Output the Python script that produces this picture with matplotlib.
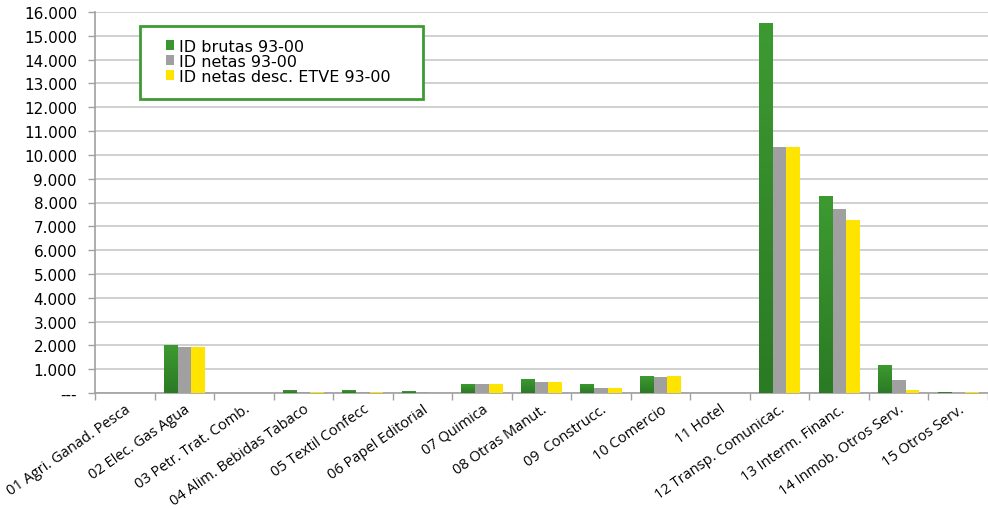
import matplotlib
matplotlib.use('Agg')
import matplotlib.pyplot as plt
import numpy as np
from matplotlib.ticker import FuncFormatter
from matplotlib.patches import Rectangle
from matplotlib.colors import LinearSegmentedColormap

plt.rcParams['font.family'] = ['Open Sans', 'DejaVu Sans']

# Sectores
sectores = ['01 Agri. Ganad. Pesca', '02 Elec. Gas Agua', '03 Petr. Trat. Comb.',
            '04 Alim. Bebidas Tabaco', '05 Textil Confecc', '06 Papel Editorial',
            '07 Quimica', '08 Otras Manut.', '09  Construcc.', '10 Comercio',
            '11 Hotel', '12 Transp. Comunicac.', '13 Interm. Financ.',
            '14 Inmob. Otros Serv.', '15 Otros Serv.']

# Valores
brutas = [0, 2000, 10, 120, 110, 70, 370, 590, 380, 710, 0, 15550, 8260, 1180, 60]
netas = [0, 1930, 5, 60, 50, 60, 370, 470, 210, 670, 0, 10340, 7740, 540, 0]
netas_etve = [0, 1930, 5, 60, 50, 0, 370, 470, 210, 710, 0, 10340, 7270, 110, 40]

series = ['ID brutas 93-00', 'ID netas 93-00', 'ID netas desc. ETVE 93-00']
colores = ['#3a962e', '#a0a0a0', '#ffe400']

fig = plt.figure(figsize=(9.88, 5.10), dpi=100)
ax = fig.add_axes([95 / 988, 1 - 394 / 510, 893 / 988, 381 / 510])

x = np.arange(len(sectores))
w = 0.23
verde = LinearSegmentedColormap.from_list('verde', ['#2b7a24', '#3d9a31'])
grad = np.linspace(0, 1, 100).reshape(-1, 1)
for i, (vals, col, nom) in enumerate(zip([brutas, netas, netas_etve], colores, series)):
    barras = ax.bar(x + (i - 1) * w, vals, width=w, color=col, label=nom, zorder=3)
    if i == 0:
        # degradado en las barras verdes
        for b in barras:
            if b.get_height() <= 0:
                continue
            x0, y0 = b.get_x(), b.get_y()
            im = ax.imshow(grad, cmap=verde, origin='lower', aspect='auto',
                           extent=[x0, x0 + b.get_width(), y0, y0 + b.get_height()],
                           zorder=3.5)
            im.set_clip_path(b)

ax.set_xlim(-0.5, len(sectores) - 0.5)
ax.set_ylim(0, 16000)
ax.set_yticks(np.arange(0, 16001, 1000))
ax.yaxis.set_major_formatter(FuncFormatter(
    lambda v, p: '---' if v == 0 else f'{int(v):,}'.replace(',', '.')))
ax.grid(axis='y', color='#c8c8c8', linewidth=1.2, zorder=0)

ax.set_xticks(x)
ax.set_xticklabels(sectores, rotation=35, ha='right', va='top', rotation_mode='anchor')
ax.set_xticks(np.arange(-0.5, len(sectores), 1), minor=True)
ax.tick_params(axis='x', which='major', length=0, pad=6, labelsize=10.5)
ax.tick_params(axis='x', which='minor', length=5, color='#a0a0a0', width=1)
ax.tick_params(axis='y', length=5, color='#a0a0a0', width=1, pad=8)
for t in ax.get_yticklabels():
    t.set_fontfamily('DejaVu Sans')
    t.set_fontsize(11)

for s in ['top', 'right']:
    ax.spines[s].set_visible(False)
for s in ['left', 'bottom']:
    ax.spines[s].set_color('#a0a0a0')
    ax.spines[s].set_linewidth(1.2)

# marco de la leyenda
marco = Rectangle((0.0504, 0.7717), 0.3169, 0.1916, transform=ax.transAxes,
                  facecolor='white', edgecolor='#3f9a34', linewidth=2, zorder=5)
ax.add_patch(marco)
leg = ax.legend(loc='upper left', bbox_to_anchor=(0.079, 0.93),
                prop={'family': 'DejaVu Sans', 'size': 11.5},
                handlelength=0.55, handleheight=0.55, handletextpad=0.3,
                labelspacing=0.0, borderpad=0, borderaxespad=0, frameon=False)
leg.set_zorder(6)

fig.savefig('out.png', dpi=100)
